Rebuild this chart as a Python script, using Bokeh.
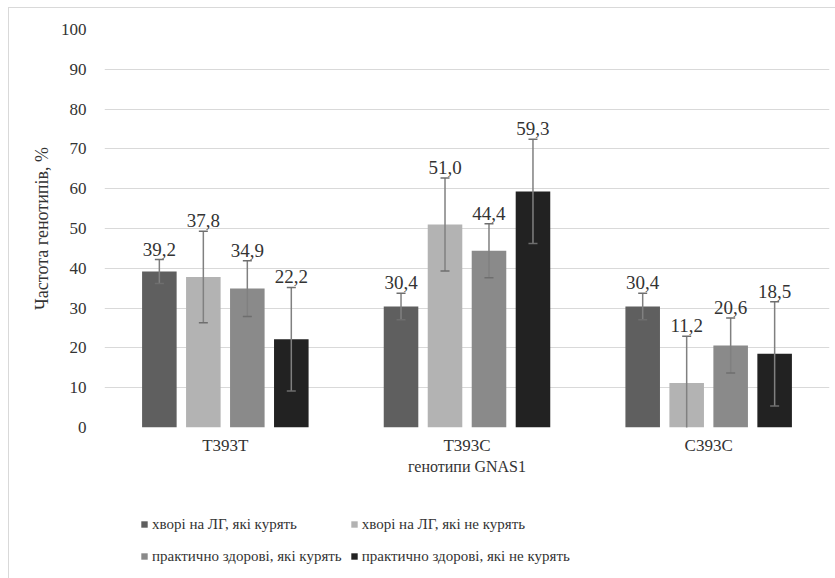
from bokeh.plotting import figure
from bokeh.layouts import column
from bokeh.models import (ColumnDataSource, Whisker, LabelSet, Legend, LegendItem,
                          TeeHead, SingleIntervalTicker)
from bokeh.transform import dodge
from bokeh.embed import file_html
from bokeh.resources import INLINE

genotypes = ["T393T", "T393C", "C393C"]
series_names = ["хворі на ЛГ, які курять", "хворі на ЛГ, які не курять",
                "практично здорові, які курять", "практично здорові, які не курять"]
sick_smoke = [39.2, 30.4, 30.4]
sick_nonsmoke = [37.8, 51.0, 11.2]
healthy_smoke = [34.9, 44.4, 20.6]
healthy_nonsmoke = [22.2, 59.3, 18.5]
err_sick_smoke = [3.0, 3.3, 3.3]
err_sick_nonsmoke = [11.5, 11.7, 11.7]
err_healthy_smoke = [7.0, 6.8, 6.9]
err_healthy_nonsmoke = [13.0, 13.1, 13.1]

values = [sick_smoke, sick_nonsmoke, healthy_smoke, healthy_nonsmoke]
errors = [err_sick_smoke, err_sick_nonsmoke, err_healthy_smoke, err_healthy_nonsmoke]
colors = ["#5f5f5f", "#b3b3b3", "#8a8a8a", "#222222"]
offsets = [-0.273, -0.091, 0.091, 0.273]
FONT = "'Liberation Serif', 'Times New Roman', serif"

p = figure(x_range=genotypes, y_range=(0, 100), width=826, height=480,
           output_backend="svg", toolbar_location=None,
           min_border_left=95, min_border_right=6, min_border_top=21,
           min_border_bottom=61)
p.outline_line_color = None
p.xgrid.grid_line_color = None
p.ygrid.grid_line_color = "#d9d9d9"
p.ygrid.grid_line_width = 1
p.yaxis.ticker = SingleIntervalTicker(interval=10, num_minor_ticks=0)

for ax in (p.xaxis, p.yaxis):
    ax.axis_line_color = None
    ax.major_tick_line_color = None
    ax.minor_tick_line_color = None
    ax.major_tick_out = 0
    ax.major_tick_in = 0
    ax.major_label_text_font = FONT
    ax.major_label_text_font_size = "17px"
    ax.major_label_text_color = "#333333"
    ax.axis_label_text_font = FONT
    ax.axis_label_text_font_size = "16px"
    ax.axis_label_text_font_style = "normal"
    ax.axis_label_text_color = "#333333"

p.yaxis.major_label_standoff = 18
p.yaxis.axis_label = "Частота генотипів, %"
p.yaxis.axis_label_text_font_size = "18px"
p.yaxis.axis_label_standoff = 6
p.xaxis.major_label_standoff = 8
p.xaxis.axis_label = "генотипи GNAS1"
p.xaxis.axis_label_standoff = 0

# legend-only figure below the chart (its bars lie outside its visible y range)
pl = figure(width=826, height=90, x_range=genotypes, y_range=(200, 201),
            x_axis_location=None, y_axis_location=None,
            output_backend="svg", toolbar_location=None,
            min_border_left=0, min_border_right=0, min_border_top=0, min_border_bottom=0)
pl.grid.visible = False
pl.outline_line_color = None

items = []
for name, vals, errs, col, off in zip(series_names, values, errors, colors, offsets):
    src = ColumnDataSource(dict(
        g=genotypes, v=vals,
        up=[a + b for a, b in zip(vals, errs)],
        lo=[a - b for a, b in zip(vals, errs)],
        lab=[f"{a:.1f}".replace(".", ",") for a in vals],
    ))
    p.vbar(x=dodge("g", off, range=p.x_range), top="v", width=0.143, bottom=0,
           source=src, fill_color=col, line_color=None)
    w = Whisker(source=src, base=dodge("g", off, range=p.x_range), upper="up", lower="lo",
                line_color="#808080", line_width=1.5, level="overlay",
                upper_head=TeeHead(size=9, line_color="#6e6e6e", line_width=1.5),
                lower_head=TeeHead(size=9, line_color="#6e6e6e", line_width=1.5))
    p.add_layout(w)
    lbl = LabelSet(source=src, x=dodge("g", off, range=p.x_range), y="up", text="lab",
                   text_align="center", text_baseline="bottom", y_offset=4,
                   text_font=FONT, text_font_size="19px", text_color="#333333")
    p.add_layout(lbl)
    rl = pl.vbar(x=dodge("g", off, range=pl.x_range), top="v", width=0.143, bottom=0,
                 source=src, fill_color=col, line_color=None)
    items.append(LegendItem(label=name, renderers=[rl]))

legend = Legend(items=items, ncols=2, location=(36, 10), orientation="horizontal")
legend.label_text_font = FONT
legend.label_text_font_size = "15px"
legend.label_text_color = "#333333"
legend.glyph_width = 8
legend.glyph_height = 8
legend.label_height = 24
legend.label_standoff = 4
legend.spacing = 8
legend.padding = 4
legend.margin = 0
legend.border_line_color = None
legend.background_fill_alpha = 0
pl.add_layout(legend, "center")

lay = column(p, pl, spacing=0)
lay.styles = {"margin-left": "8px", "margin-top": "7px",
              "border-left": "1px solid #d9d9d9", "border-top": "1px solid #d9d9d9"}

open("out.html", "w").write(file_html(lay, INLINE))
